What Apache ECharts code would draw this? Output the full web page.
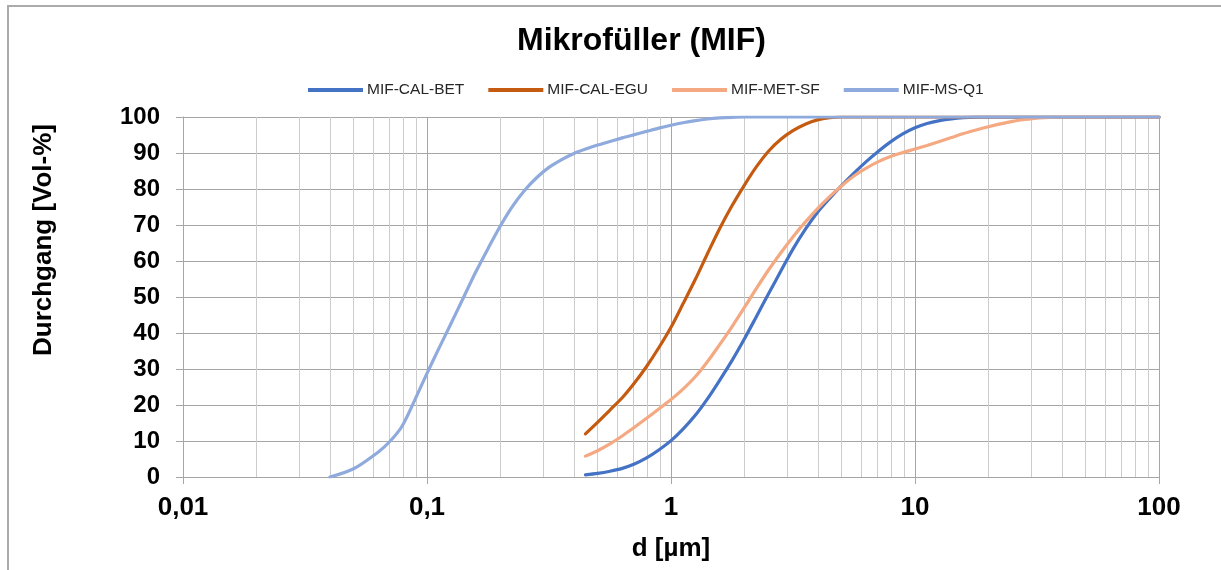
<!DOCTYPE html>
<html>
<head>
<meta charset="utf-8">
<script src="https://cdn.jsdelivr.net/npm/echarts@6/dist/echarts.min.js"></script>
<style>
  html, body { margin: 0; padding: 0; background: #fff; }
  #wrap { position: relative; width: 1221px; height: 570px; overflow: hidden; }
  #chart { position: absolute; left: 0; top: 0; width: 1221px; height: 570px; }
  #frame { position: absolute; left: 7px; top: 5px; width: 1400px; height: 800px;
           border-left: 2px solid #ababab; border-top: 2px solid #ababab; pointer-events: none; }
</style>
</head>
<body>
<div id="wrap">
  <div id="chart"></div>
  <div id="frame"></div>
</div>
<script>
// Particle size distribution of micro fillers: passing [Vol-%] over grain size d [µm]
const seriesNames = ['MIF-CAL-BET', 'MIF-CAL-EGU', 'MIF-MET-SF', 'MIF-MS-Q1'];
const seriesColors = ['#4472C4', '#C55A11', '#F4A982', '#8FAADC'];

const calBetD = [0.446, 0.5, 0.562, 0.631, 0.708, 0.794, 0.891, 1.0, 1.12, 1.26, 1.41, 1.58, 1.78, 2.0, 2.24, 2.51, 2.82, 3.16, 3.55, 3.98, 4.47, 5.01, 5.62, 6.31, 7.08, 7.94, 8.91, 10, 11.2, 12.6, 14.1, 15.8, 17.8, 20, 100];
const calBetP = [0.6, 1.0, 1.6, 2.4, 3.6, 5.3, 7.5, 10.1, 13.3, 17.2, 21.7, 26.8, 32.4, 38.4, 44.6, 50.9, 57.2, 63.3, 68.8, 73.5, 77.4, 81.0, 84.4, 87.6, 90.5, 93.1, 95.3, 97.0, 98.2, 99.0, 99.5, 99.8, 99.95, 100, 100];

const calEguD = [0.446, 0.5, 0.562, 0.631, 0.708, 0.794, 0.891, 1.0, 1.12, 1.26, 1.41, 1.58, 1.78, 2.0, 2.24, 2.51, 2.82, 3.16, 3.55, 3.98, 4.47, 5.01, 100];
const calEguP = [12.0, 15.2, 18.6, 22.0, 26.1, 30.7, 35.9, 41.6, 48.1, 55.0, 62.0, 68.9, 75.4, 81.1, 86.2, 90.5, 93.8, 96.2, 98.0, 99.2, 99.8, 100, 100];

const metSfD = [0.446, 0.5, 0.562, 0.631, 0.708, 0.794, 0.891, 1.0, 1.12, 1.26, 1.41, 1.58, 1.78, 2.0, 2.24, 2.51, 2.82, 3.16, 3.55, 3.98, 4.47, 5.01, 5.62, 6.31, 7.08, 7.94, 8.91, 10, 11.2, 12.6, 14.1, 15.8, 17.8, 20, 22.4, 25.1, 28.2, 31.6, 35.5, 39.8, 100];
const metSfP = [5.8, 7.3, 9.2, 11.4, 13.8, 16.3, 18.9, 21.5, 24.4, 27.9, 32.0, 36.7, 41.8, 47.1, 52.4, 57.5, 62.3, 66.7, 70.8, 74.5, 77.9, 80.9, 83.6, 85.8, 87.6, 89.0, 90.1, 91.1, 92.1, 93.2, 94.3, 95.4, 96.4, 97.3, 98.1, 98.8, 99.3, 99.7, 99.9, 100, 100];

const msQ1D = [0.04, 0.05, 0.063, 0.0707, 0.079, 0.089, 0.1, 0.112, 0.126, 0.141, 0.158, 0.178, 0.2, 0.224, 0.251, 0.282, 0.316, 0.355, 0.398, 0.447, 0.5, 0.562, 0.631, 0.708, 0.794, 0.891, 1.0, 1.12, 1.26, 1.41, 1.58, 1.78, 2.0, 100];
const msQ1P = [0, 2.3, 6.9, 10.0, 14.1, 21.3, 28.8, 35.8, 42.9, 49.8, 56.8, 63.5, 69.8, 75.2, 79.6, 83.2, 86.0, 88.1, 89.8, 91.1, 92.2, 93.2, 94.2, 95.1, 96.0, 96.9, 97.7, 98.4, 99.0, 99.45, 99.75, 99.92, 100, 100];

const xTickLabels = ['0,01', '0,1', '1', '10', '100'];
const yTicks = { min: 0, max: 100, step: 10 };

// Minor vertical grid lines: 2..9 within every decade
const decades = [0.01, 0.1, 1, 10];
const minorSteps = [2, 3, 4, 5, 6, 7, 8, 9];

const zip = (xs, ys) => xs.map((x, i) => [x, ys[i]]);
const seriesData = [zip(calBetD, calBetP), zip(calEguD, calEguP), zip(metSfD, metSfP), zip(msQ1D, msQ1P)];

const minorLines = [];
decades.forEach(d => minorSteps.forEach(m => minorLines.push({ xAxis: +(d * m).toPrecision(3) })));

const font = 'Liberation Sans, Arial, sans-serif';
const chart = echarts.init(document.getElementById('chart'), null, { renderer: 'canvas' });

const series = seriesNames.map((name, i) => ({
  name: name,
  type: 'line',
  data: seriesData[i],
  smooth: 0.3,
  showSymbol: false,
  symbol: 'none',
  z: 5,
  lineStyle: { width: 3.2, color: seriesColors[i], cap: 'round' },
  itemStyle: { color: seriesColors[i] }
}));

series.push({
  name: 'minorGrid',
  type: 'line',
  data: [],
  silent: true,
  z: 1,
  markLine: {
    silent: true,
    symbol: ['none', 'none'],
    animation: false,
    label: { show: false },
    lineStyle: { color: '#cccccc', width: 1, type: 'solid' },
    emphasis: { disabled: true },
    data: minorLines
  }
});

chart.setOption({
  animation: false,
  backgroundColor: '#ffffff',
  title: {
    text: 'Mikrofüller (MIF)',
    left: 512,
    top: 20,
    textStyle: { fontFamily: font, fontSize: 32, fontWeight: 'bold', color: '#000' }
  },
  legend: {
    data: seriesNames,
    top: 77,
    left: 303,
    icon: 'rect',
    itemWidth: 55,
    itemHeight: 4,
    itemGap: 24,
    textStyle: { fontFamily: font, fontSize: 15.5, color: '#262626', padding: [0, 0, 0, -1] }
  },
  grid: { left: 183, right: 62, top: 117, bottom: 93, containLabel: false },
  graphic: [{
    type: 'text',
    x: 44,
    y: 240,
    rotation: Math.PI / 2,
    style: {
      text: 'Durchgang [Vol-%]',
      fontFamily: font, fontSize: 26, fontWeight: 'bold', fill: '#000',
      align: 'center', verticalAlign: 'middle'
    }
  }],
  xAxis: {
    type: 'log',
    logBase: 10,
    min: 0.01,
    max: 100,
    splitNumber: 4,
    name: 'd [µm]',
    nameLocation: 'middle',
    nameGap: 59,
    nameTextStyle: { fontFamily: font, fontSize: 26, fontWeight: 'bold', color: '#000' },
    axisLine: { show: true, lineStyle: { color: '#a6a6a6', width: 1 } },
    axisTick: { show: true, length: 7, lineStyle: { color: '#a6a6a6' } },
    axisLabel: {
      fontFamily: font, fontSize: 26, fontWeight: 'bold', color: '#000', margin: 18,
      formatter: (v, idx) => xTickLabels[idx] !== undefined ? xTickLabels[idx] : String(v).replace('.', ',')
    },
    splitLine: { show: true, lineStyle: { color: '#a6a6a6', width: 1 } }
  },
  yAxis: {
    type: 'value',
    min: yTicks.min,
    max: yTicks.max,
    interval: yTicks.step,
    axisLine: { show: true, lineStyle: { color: '#a6a6a6', width: 1 } },
    axisTick: { show: true, length: 7, lineStyle: { color: '#a6a6a6' } },
    axisLabel: { fontFamily: font, fontSize: 24, fontWeight: 'bold', color: '#000', margin: 23 },
    splitLine: { show: true, lineStyle: { color: '#a6a6a6', width: 1 } }
  },
  series: series
});
</script>
</body>
</html>
